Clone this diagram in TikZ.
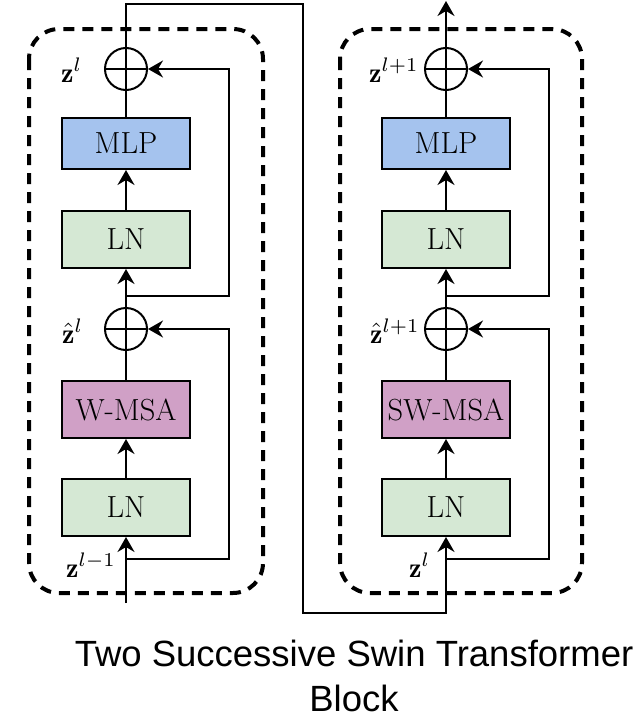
\documentclass[tikz,border=0pt]{standalone}
\usepackage{amsmath}
\usepackage{graphicx}
\usepackage{fontspec}
\newfontfamily\capfont{Liberation Sans}
\usetikzlibrary{arrows.meta}

\definecolor{mlpblue}{RGB}{165,195,238}
\definecolor{lngreen}{RGB}{213,232,212}
\definecolor{msapink}{RGB}{208,160,198}

\newcommand{\siglabel}[1]{\scalebox{2.8}{$#1$}}

\tikzset{
  blk/.style={draw, line width=2pt, minimum width=128pt, inner xsep=5pt,
    font=\fontsize{30.5}{36}\selectfont},
  mlpbox/.style={blk, fill=mlpblue, minimum height=51pt},
  lnbox/.style={blk, fill=lngreen, minimum height=57pt},
  msabox/.style={blk, fill=msapink, minimum height=57pt},
  addop/.style={circle, draw, line width=2pt, minimum size=42pt, inner sep=0pt,
    path picture={\draw[line width=2pt]
      (path picture bounding box.north) -- (path picture bounding box.south)
      (path picture bounding box.west) -- (path picture bounding box.east);}},
  flow/.style={line width=2pt},
  arr/.style={flow, -{Stealth[length=15pt,width=17pt,inset=5pt]}},
  frame/.style={line width=4pt, dash pattern=on 11pt off 8pt, rounded corners=30pt},
  lbl/.style={inner sep=0pt, anchor=base west},
  captext/.style={font=\capfont\fontsize{36.5}{44}\selectfont, anchor=base, inner sep=0pt}
}

\begin{document}
\begin{tikzpicture}[x=1pt, y=-1pt]
\useasboundingbox (0,0) rectangle (641,718);

% dashed frames of the two blocks
\draw[frame] (29,29) rectangle (263,593);
\draw[frame] (340,29) rectangle (582,593);

% ---- first block (W-MSA) ----
\node[addop] (pa1) at (126,69) {};
\node[mlpbox] (mlp1) at (126,143.5) {MLP};
\node[lnbox] (lnB1) at (126,239.5) {LN};
\node[addop] (pb1) at (126,329) {};
\node[msabox] (msa1) at (126,409.5) {W-MSA};
\node[lnbox] (lnA1) at (126,507.5) {LN};

\coordinate (inL) at (126,603);
\coordinate (brL1) at (126,559);
\coordinate (skL1) at (229,559);
\coordinate (brL2) at (126,296);
\coordinate (skL2) at (229,296);

\draw[arr] (inL) -- (lnA1);
\draw[arr] (lnA1) -- (msa1);
\draw[flow] (msa1) -- (pb1);
\draw[arr] (pb1) -- (lnB1);
\draw[arr] (lnB1) -- (mlp1);
\draw[flow] (mlp1) -- (pa1);
\draw[arr] (brL1) -- (skL1) |- (pb1.east);
\draw[arr] (brL2) -- (skL2) |- (pa1.east);

% ---- second block (SW-MSA) ----
\node[addop] (pa2) at (446,69) {};
\node[mlpbox] (mlp2) at (446,143.5) {MLP};
\node[lnbox] (lnB2) at (446,239.5) {LN};
\node[addop] (pb2) at (446,329) {};
\node[msabox] (msa2) at (446,409.5) {SW-MSA};
\node[lnbox] (lnA2) at (446,507.5) {LN};

\coordinate (brR1) at (446,559);
\coordinate (skR1) at (549,559);
\coordinate (brR2) at (446,296);
\coordinate (skR2) at (549,296);
\coordinate (outR) at (446,1);

\draw[arr] (lnA2) -- (msa2);
\draw[flow] (msa2) -- (pb2);
\draw[arr] (pb2) -- (lnB2);
\draw[arr] (lnB2) -- (mlp2);
\draw[flow] (mlp2) -- (pa2);
\draw[arr] (brR1) -- (skR1) |- (pb2.east);
\draw[arr] (brR2) -- (skR2) |- (pa2.east);
\draw[arr] (pa2) -- (outR);

% link from the first block's output to the second block's input
\coordinate (tp1) at (126,4);
\coordinate (tp2) at (303,4);
\coordinate (bt1) at (303,613);
\coordinate (bt2) at (446,613);
\draw[arr] (pa1.north) -- (tp1) -- (tp2) -- (bt1) -- (bt2) -- (lnA2);

% signal labels
\node[lbl] (zl1) at (61,82) {\siglabel{\mathbf{z}^{l}}};
\node[lbl] (zh1) at (62,343) {\siglabel{\hat{\mathbf{z}}^{l}}};
\node[lbl] (zin1) at (66,577) {\siglabel{\mathbf{z}^{l-1}}};
\node[lbl] (zl2) at (369,82) {\siglabel{\mathbf{z}^{l+1}}};
\node[lbl] (zh2) at (370,343) {\siglabel{\hat{\mathbf{z}}^{l+1}}};
\node[lbl] (zin2) at (409,577) {\siglabel{\mathbf{z}^{l}}};

% caption
\node[captext] (cap1) at (354,666) {Two Successive Swin Transformer};
\node[captext] (cap2) at (354,711) {Block};
\end{tikzpicture}
\end{document}
